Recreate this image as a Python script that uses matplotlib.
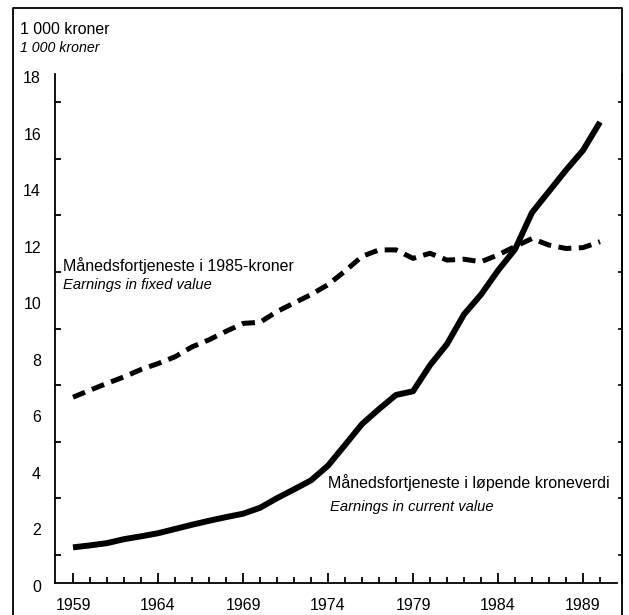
import matplotlib
matplotlib.use("Agg")
import matplotlib.pyplot as plt
from matplotlib import font_manager
from matplotlib.lines import Line2D
from matplotlib.ticker import FixedLocator, NullFormatter
from matplotlib.transforms import ScaledTranslation

years = list(range(1959, 1991))
current_value = [1.26, 1.33, 1.41, 1.55, 1.65, 1.76, 1.91, 2.06, 2.20, 2.33,
                 2.45, 2.66, 3.00, 3.31, 3.63, 4.15, 4.88, 5.62, 6.15, 6.65,
                 6.78, 7.70, 8.45, 9.50, 10.20, 11.05, 11.80, 13.10, 13.85, 14.60,
                 15.30, 16.30]
fixed_value = [6.57, 6.82, 7.06, 7.29, 7.55, 7.76, 8.00, 8.35, 8.60, 8.90,
               9.18, 9.22, 9.60, 9.90, 10.20, 10.55, 11.03, 11.55, 11.78, 11.78,
               11.48, 11.66, 11.42, 11.45, 11.36, 11.60, 11.90, 12.18, 11.95, 11.83,
               11.86, 12.07]
year_labels = [1959, 1964, 1969, 1974, 1979, 1984, 1989]
y_labels = [0, 2, 4, 6, 8, 10, 12, 14, 16, 18]
odd_ticks = list(range(1, 18, 2))


def pickFont(names):
    for name in names:
        try:
            font_manager.findfont(name, fallback_to_default=False)
            return name
        except Exception:
            continue
    return "DejaVu Sans"


font = pickFont(["Liberation Sans Narrow", "Arial Narrow", "Liberation Sans"])
plt.rcParams["font.family"] = [font, "DejaVu Sans"]
fs = 11.5
fs_it = 10.6

fig = plt.figure(figsize=(6.29, 6.15), dpi=100)
W, H = 629.0, 615.0

# outer frame (bottom edge runs off the picture)
fig.add_artist(Line2D([13 / W, 13 / W, 622 / W, 622 / W], [0, 1 - 8 / H, 1 - 8 / H, 0],
                      transform=fig.transFigure, color="black", lw=1.3))

ax = fig.add_axes([55 / W, (H - 583) / H, (617 - 55) / W, (583 - 74) / H])
ax.plot(years, current_value, color="black", lw=4.3, solid_capstyle="butt", solid_joinstyle="round")
ax.plot(years, fixed_value, color="black", lw=3.6, dashes=(2.6, 1.5), dash_capstyle="butt")

ax.set_xlim(1957.94, 1991.0)
ax.set_ylim(0, 18)
for side in ["top", "right"]:
    ax.spines[side].set_visible(False)
for side in ["left", "bottom"]:
    ax.spines[side].set_linewidth(1.3)

ax.set_xticks(year_labels)
ax.set_xticklabels([str(y) for y in year_labels], fontsize=fs)
ax.xaxis.set_minor_locator(FixedLocator([y for y in years if y not in year_labels]))
ax.tick_params(axis="x", which="major", direction="in", length=7, width=1.3, pad=11)
ax.tick_params(axis="x", which="minor", direction="in", length=4, width=1.3)

ax.set_yticks(y_labels)
ax.set_yticklabels([str(v) for v in y_labels], fontsize=fs)
ax.yaxis.set_minor_locator(FixedLocator(odd_ticks))
ax.tick_params(axis="y", which="major", length=0, pad=10)
ax.tick_params(axis="y", which="minor", direction="in", length=4, width=1.3)
shift = ScaledTranslation(0, -3 / 100, fig.dpi_scale_trans)
for lab in ax.get_yticklabels():
    lab.set_transform(lab.get_transform() + shift)

# small ticks on the right frame line
sec = ax.secondary_yaxis((622 - 55) / (617 - 55))
sec.set_yticks([])
sec.yaxis.set_minor_locator(FixedLocator(odd_ticks))
sec.yaxis.set_minor_formatter(NullFormatter())
sec.tick_params(axis="y", which="minor", direction="in", length=3, width=1.2)
sec.spines["right"].set_linewidth(1.3)

ax.text(1958.41, 11.24, "Månedsfortjeneste i 1985-kroner", fontsize=fs, va="center", ha="left")
ax.text(1958.41, 10.54, "Earnings in fixed value", fontsize=fs_it, style="italic", va="center", ha="left")
ax.text(1974.0, 3.54, "Månedsfortjeneste i løpende kroneverdi", fontsize=fs, va="center", ha="left")
ax.text(1974.1, 2.69, "Earnings in current value", fontsize=fs_it, style="italic", va="center", ha="left")

fig.text(20 / W, 1 - 29 / H, "1 000 kroner", fontsize=11.4, va="center", ha="left")
fig.text(20 / W, 1 - 48 / H, "1 000 kroner", fontsize=10.2, style="italic", va="center", ha="left")

fig.savefig("out.png", dpi=100)
